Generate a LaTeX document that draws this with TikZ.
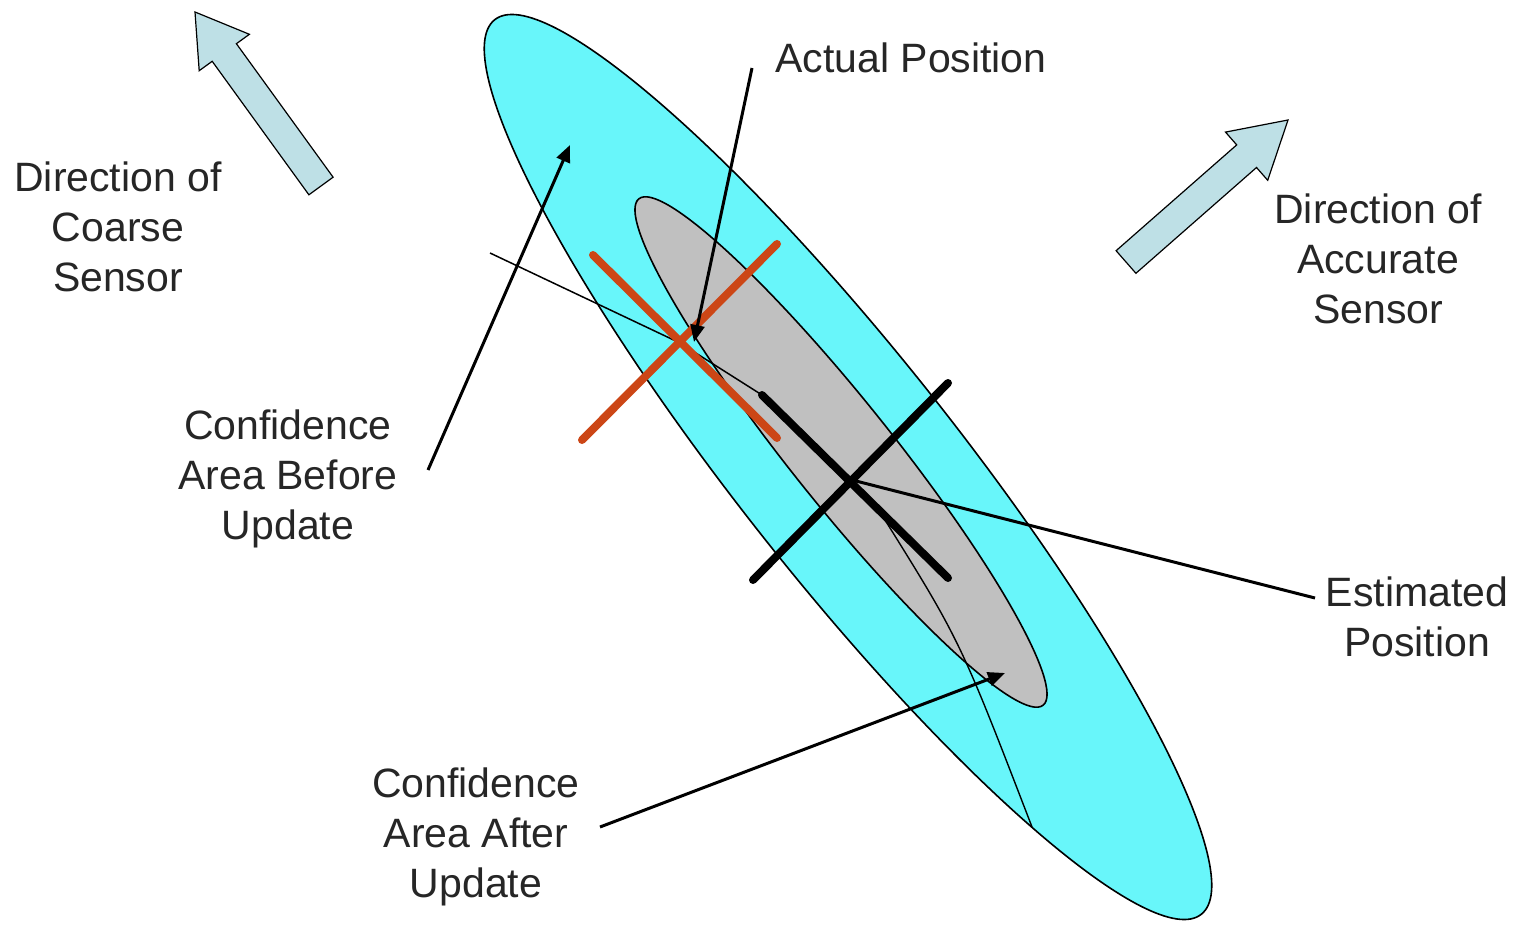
\documentclass[tikz,border=0pt]{standalone}
\usepackage{fontspec}
\setmainfont{Liberation Sans}
\usetikzlibrary{arrows.meta}
\definecolor{cyanfill}{RGB}{104,246,250}
\definecolor{grayfill}{RGB}{192,192,192}
\definecolor{crossred}{RGB}{204,70,22}
\definecolor{arrowfill}{RGB}{190,224,230}
\begin{document}
\begin{tikzpicture}[x=1pt,y=-1pt,
  lbl/.style={align=center,font=\fontsize{41}{50}\selectfont,inner sep=0pt,text=black!85},
  ptr/.style={line width=3pt,-{Triangle[length=17pt,width=14pt]}},
  bar/.style={line width=8pt,line cap=round},
  outline/.style={draw=black,line width=1.6pt},
  blockarrow/.style={draw=black,line width=1.2pt,fill=arrowfill,line join=miter}]
\useasboundingbox (0,0) rectangle (1520,925);
\fill[white] (0,0) rectangle (1520,925);

% confidence areas
\filldraw[outline,fill=cyanfill,rotate around={-51.7:(848,467)}] (848,467) ellipse [x radius=570,y radius=110];
\filldraw[outline,fill=grayfill,rotate around={-51.4:(841,452)}] (841,452) ellipse [x radius=324,y radius=51];
\draw[line width=1.4pt] (880,512) .. controls (960,640) .. (1032,827);

% named points
\coordinate (redc) at (680,343);
\coordinate (blackc) at (852,480);
\coordinate (thinstart) at (490,253);
\coordinate (armstart) at (762,395);
\coordinate (actualtip) at (694,342);
\coordinate (actualfoot) at (752,68);
\coordinate (beforetip) at (570,145);
\coordinate (beforefoot) at (428,470);
\coordinate (aftertip) at (1005,673);
\coordinate (afterfoot) at (600,827);
\coordinate (estfoot) at (1315,598);

% thin line through actual position
\draw[line width=1.5pt] (thinstart) -- (redc) -- (armstart);

% actual position cross
\draw[bar,draw=crossred] (593,255) -- (777,438);
\draw[bar,draw=crossred] (582,440) -- (777,244);
% estimated position cross
\draw[bar] (armstart) -- (948,578);
\draw[bar] (753,580) -- (948,383);

% sensor direction arrows
\filldraw[blockarrow] (195,12) -- (249.4,34.3) -- (236.4,43.7) -- (333.1,177.2) -- (308.9,194.8) -- (212.2,61.3) -- (199.2,70.7) -- cycle;
\filldraw[blockarrow] (1288,120) -- (1267.7,180.3) -- (1256.5,167.5) -- (1135.9,273.3) -- (1116.1,250.7) -- (1236.7,144.9) -- (1225.5,132.1) -- cycle;

% labels
\node[lbl] (coarse) at (118,227) {Direction of\\Coarse\\Sensor};
\node[lbl] (accurate) at (1378,259) {Direction of\\Accurate\\Sensor};
\node[lbl] (actual) at (911,58) {Actual Position};
\node[lbl] (before) at (288,479) {Confidence\\Area Before\\Update};
\node[lbl] (estimated) at (1417,617) {Estimated\\Position};
\node[lbl] (after) at (476,837) {Confidence\\Area After\\Update};

% connectors
\draw[ptr] (actualfoot) -- (actualtip);
\draw[ptr] (beforefoot) -- (beforetip);
\draw[ptr] (afterfoot) -- (aftertip);
\draw[line width=3pt] (estfoot) -- (blackc);
\end{tikzpicture}
\end{document}
